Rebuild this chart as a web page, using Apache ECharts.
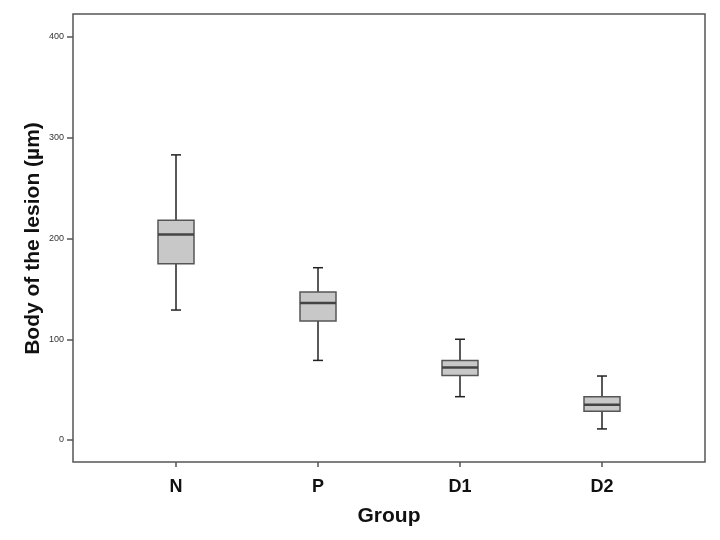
<!DOCTYPE html>
<html>
<head>
<meta charset="utf-8">
<script src="https://cdn.jsdelivr.net/npm/echarts@6/dist/echarts.min.js"></script>
<style>
  html, body { margin: 0; padding: 0; background: #fff; }
  #chart { width: 720px; height: 540px; }
</style>
</head>
<body>
<div id="chart"></div>
<script>
const groups = ["N", "P", "D1", "D2"];
const whiskerLow = [129, 79, 43, 11];
const q1 = [175, 118, 64, 28.5];
const median = [204, 136, 72, 35];
const q3 = [218, 147, 79, 43];
const whiskerHigh = [283, 171, 100, 63.5];
const yTicks = [0, 100, 200, 300, 400];

const FONT = "Liberation Sans, Arial, sans-serif";

const boxData = groups.map((g, i) => [i, whiskerLow[i], q1[i], median[i], q3[i], whiskerHigh[i]]);

function renderBox(params, api) {
    const i = api.value(0);
    const lo = api.coord([i, api.value(1)]);
    const b1 = api.coord([i, api.value(2)]);
    const md = api.coord([i, api.value(3)]);
    const b3 = api.coord([i, api.value(4)]);
    const hi = api.coord([i, api.value(5)]);
    const cx = lo[0];
    const bw = 18;   // half box width
    const cw = 5;    // half cap width
    const whisker = { stroke: "#222", lineWidth: 1.5 };

    return {
        type: "group",
        children: [
            { type: "line", shape: { x1: cx, y1: hi[1], x2: cx, y2: b3[1] }, style: whisker },
            { type: "line", shape: { x1: cx, y1: b1[1], x2: cx, y2: lo[1] }, style: whisker },
            { type: "line", shape: { x1: cx - cw, y1: hi[1], x2: cx + cw, y2: hi[1] }, style: whisker },
            { type: "line", shape: { x1: cx - cw, y1: lo[1], x2: cx + cw, y2: lo[1] }, style: whisker },
            {
                type: "rect",
                shape: { x: cx - bw, y: b3[1], width: bw * 2, height: b1[1] - b3[1] },
                style: { fill: "#c8c8c8", stroke: "#555", lineWidth: 1.5 }
            },
            {
                type: "line",
                shape: { x1: cx - bw, y1: md[1], x2: cx + bw, y2: md[1] },
                style: { stroke: "#444", lineWidth: 2.5 }
            }
        ]
    };
}

const hidden = { show: false };
const yRange = { min: yTicks[0], max: yTicks[yTicks.length - 1], interval: 100 };

const chart = echarts.init(document.getElementById("chart"));

chart.setOption({
    backgroundColor: "#fff",
    animation: false,
    grid: [
        // 0: outer frame
        { left: 73, top: 14, width: 632, height: 448, show: true, borderColor: "#555", borderWidth: 1.5, backgroundColor: "transparent" },
        // 1: plotting area (category centres, 0..400)
        { left: 105, top: 37, width: 568, height: 403 },
        // 2: x ticks on bottom of frame
        { left: 105, top: 14, width: 568, height: 448 },
        // 3: y ticks on left of frame
        { left: 73, top: 37, width: 632, height: 403 }
    ],
    xAxis: [
        { gridIndex: 0, type: "value", show: false },
        { gridIndex: 1, type: "category", data: groups, show: false },
        {
            gridIndex: 2,
            type: "category",
            data: groups,
            axisLine: { show: false },
            axisTick: { show: true, alignWithLabel: true, length: 5, lineStyle: { color: "#555", width: 1.5 } },
            axisLabel: { margin: 16, color: "#111", fontSize: 18, fontWeight: "bold", fontFamily: FONT },
            name: "Group",
            nameLocation: "middle",
            nameGap: 44,
            nameTextStyle: { color: "#111", fontSize: 21, fontWeight: "bold", fontFamily: FONT }
        },
        { gridIndex: 3, type: "value", show: false }
    ],
    yAxis: [
        { gridIndex: 0, type: "value", show: false },
        Object.assign({ gridIndex: 1, type: "value", show: false }, yRange),
        { gridIndex: 2, type: "value", show: false },
        Object.assign({
            gridIndex: 3,
            type: "value",
            splitLine: hidden,
            axisLine: hidden,
            axisTick: { show: true, length: 6, lineStyle: { color: "#555", width: 1.5 } },
            axisLabel: { margin: 9, color: "#333", fontSize: 9, fontFamily: FONT },
            name: "Body of the lesion (µm)",
            nameLocation: "middle",
            nameGap: 29,
            nameMoveOverlap: false,
            nameTextStyle: { color: "#111", fontSize: 21, fontWeight: "bold", fontFamily: FONT }
        }, yRange)
    ],
    series: [{
        type: "custom",
        xAxisIndex: 1,
        yAxisIndex: 1,
        renderItem: renderBox,
        encode: { x: 0, y: [1, 2, 3, 4, 5] },
        data: boxData,
        clip: false
    }]
});
</script>
</body>
</html>
